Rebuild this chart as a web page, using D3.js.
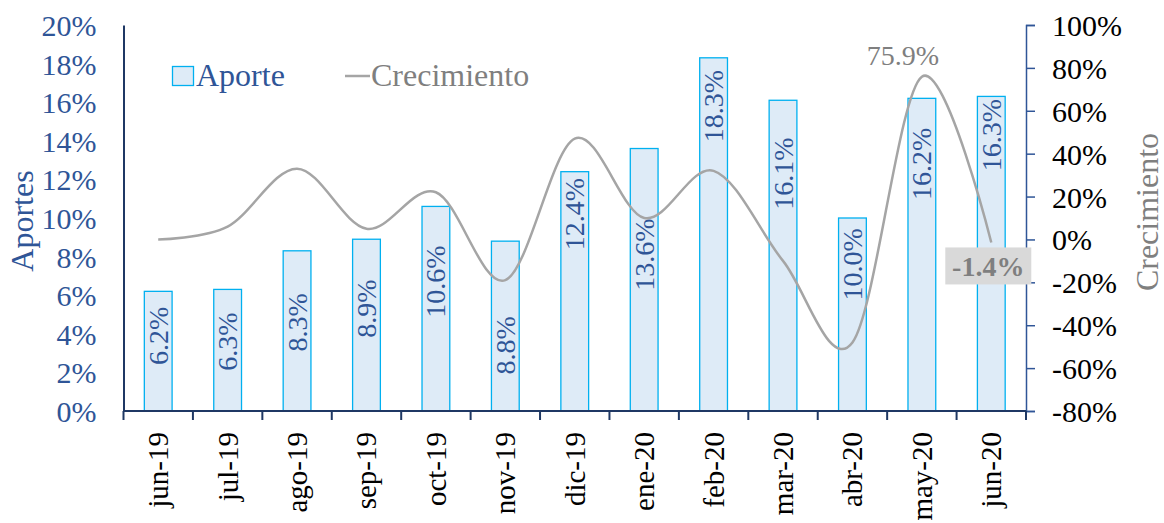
<!DOCTYPE html>
<html><head><meta charset="utf-8">
<script src="https://cdn.jsdelivr.net/npm/d3@7"></script>
<style>body{margin:0;background:#fff}svg{display:block}text{font-family:"Liberation Serif","Times New Roman",serif}</style>
</head><body><svg id="c" width="1164" height="523"></svg>
<script>
const categories = ["jun-19","jul-19","ago-19","sep-19","oct-19","nov-19","dic-19","ene-20","feb-20","mar-20","abr-20","may-20","jun-20"];
const aporte = [6.2,6.3,8.3,8.9,10.6,8.8,12.4,13.6,18.3,16.1,10.0,16.2,16.3];
// where each bar's label sits, in left-axis units
const aporteLabelAt = [3.9,3.6,4.6,5.3,6.7,3.4,10.2,8.1,15.8,12.3,7.6,12.8,14.3];
const crecimiento = [0,6,33,5,22,-19,47,10,32,-10,-48,75.9,-1.4];
const leftTicks = [0,2,4,6,8,10,12,14,16,18,20];
const rightTicks = [-80,-60,-40,-20,0,20,40,60,80,100];

const svg = d3.select("#c");
const X0 = 123.5, X1 = 1026, Y0 = 411, Y1 = 25;
const blue = "#2f5597", navy = "#1f3864", gray = "#a5a5a5", tgray = "#7f7f7f";

const x = d3.scaleBand().domain(categories).range([X0, X1]).paddingInner(0.6).paddingOuter(0.3);
const yL = d3.scaleLinear().domain([0,20]).range([Y0, Y1]);
const yR = d3.scaleLinear().domain([-80,100]).range([Y0, Y1]);
const step = x.step();
const cx = c => x(c) + x.bandwidth()/2;

// bars
svg.append("g").selectAll("rect").data(aporte).join("rect")
  .attr("x",(d,i)=>x(categories[i])).attr("width",x.bandwidth())
  .attr("y",d=>yL(d)).attr("height",d=>Y0-yL(d))
  .attr("fill","#deebf7").attr("stroke","#00b0f0").attr("stroke-width",1.3);

// bar labels
svg.append("g").selectAll("text").data(aporte).join("text")
  .attr("transform",(d,i)=>`translate(${cx(categories[i])},${yL(aporteLabelAt[i])}) rotate(-90)`)
  .attr("text-anchor","middle").attr("dy","0.34em").attr("font-size",28).attr("fill",blue)
  .text(d=>d.toFixed(1)+"%");

// left axis
const gL = svg.append("g").attr("transform",`translate(${X0},0)`)
  .call(d3.axisLeft(yL).tickValues(leftTicks).tickSize(0).tickPadding(27).tickFormat(d=>d+"%"));
gL.select(".domain").attr("stroke",navy).attr("stroke-width",2);
gL.selectAll("text").attr("font-size",30).attr("fill",blue).attr("font-family","Liberation Serif").attr("dy","0.35em");

// right axis
const gR = svg.append("g").attr("transform",`translate(${X1},0)`)
  .call(d3.axisRight(yR).tickValues(rightTicks).tickSize(9).tickPadding(17).tickFormat(d=>d+"%"));
gR.select(".domain").attr("stroke",blue).attr("stroke-width",1.5);
gR.selectAll(".tick line").attr("stroke",blue).attr("stroke-width",1.5);
gR.selectAll("text").attr("font-size",30).attr("fill","#000").attr("font-family","Liberation Serif").attr("dy","0.35em");

// bottom axis
svg.append("line").attr("x1",X0).attr("x2",X1).attr("y1",Y0).attr("y2",Y0).attr("stroke",navy).attr("stroke-width",2);
const bounds = categories.map(c=>x(c)-step*0.3).concat([X1]);
svg.append("g").selectAll("line").data(bounds).join("line")
  .attr("x1",d=>d).attr("x2",d=>d).attr("y1",Y0).attr("y2",Y0+9)
  .attr("stroke",navy).attr("stroke-width",2);
svg.append("g").selectAll("text").data(categories).join("text")
  .attr("transform",d=>`translate(${cx(d)+10},${Y0+21}) rotate(-90)`)
  .attr("text-anchor","end").attr("font-size",29).attr("fill","#000").text(d=>d);

// line
const line = d3.line().x((d,i)=>cx(categories[i])).y(d=>yR(d)).curve(d3.curveCatmullRom.alpha(0));
svg.append("path").datum(crecimiento).attr("d",line).attr("fill","none").attr("stroke",gray).attr("stroke-width",2.5);

// line labels
const im = 11, il = 12;
svg.append("text").attr("x",cx(categories[im])-19).attr("y",yR(crecimiento[im])-12)
  .attr("text-anchor","middle").attr("font-size",28).attr("fill",tgray).text(crecimiento[im].toFixed(1)+"%");
const lx = cx(categories[il])-3, ly = yR(crecimiento[il]);
svg.append("rect").attr("x",lx-43).attr("y",ly+5).attr("width",86).attr("height",37).attr("fill","#d9d9d9");
svg.append("text").attr("x",lx).attr("y",ly+34).attr("text-anchor","middle").attr("font-size",28)
  .attr("font-weight","bold").attr("fill",tgray).text(crecimiento[il].toFixed(1)+"%");

// axis titles
svg.append("text").attr("transform",`translate(33,221) rotate(-90)`).attr("text-anchor","middle")
  .attr("font-size",32).attr("fill",blue).text("Aportes");
svg.append("text").attr("transform",`translate(1158,212) rotate(-90)`).attr("text-anchor","middle")
  .attr("font-size",32).attr("fill",tgray).text("Crecimiento");

// legend
svg.append("rect").attr("x",172.5).attr("y",66.5).attr("width",21).attr("height",19)
  .attr("fill","#deebf7").attr("stroke","#00b0f0").attr("stroke-width",1.3);
svg.append("text").attr("x",196).attr("y",86).attr("font-size",32).attr("fill",blue).text("Aporte");
svg.append("line").attr("x1",345).attr("x2",370).attr("y1",76).attr("y2",76).attr("stroke",gray).attr("stroke-width",2.5);
svg.append("text").attr("x",371).attr("y",86).attr("font-size",32).attr("fill",tgray).text("Crecimiento");
</script></body></html>
